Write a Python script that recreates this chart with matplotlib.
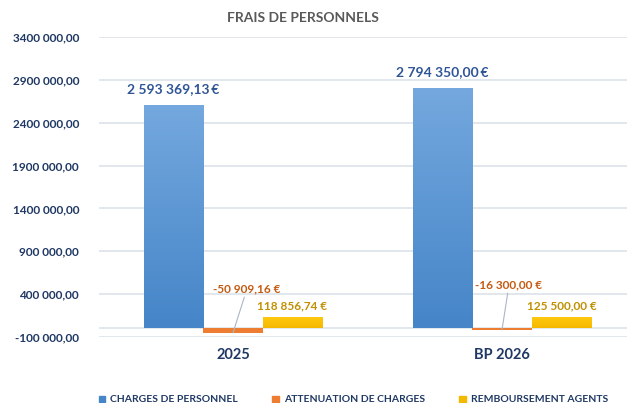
# ----- Frais de personnels -----
# bar chart, 3 series over 2 years
import numpy as np
import matplotlib
matplotlib.use("Agg")
import matplotlib.pyplot as plt
from matplotlib.colors import LinearSegmentedColormap
from matplotlib.patches import Patch

plt.rcParams['font.family'] = ['Lato', 'DejaVu Sans']

# ----- Data -----
categories = ["2025", "BP 2026"]
series_names = ["CHARGES DE PERSONNEL", "ATTENUATION DE CHARGES", "REMBOURSEMENT AGENTS"]
charges = [2593369.13, 2794350.00]
attenuation = [-50909.16, -16300.00]
remboursement = [118856.74, 125500.00]
y_ticks = [-100000, 400000, 900000, 1400000, 1900000, 2400000, 2900000, 3400000]

navy = "#1f3864"
blue_top, blue_bot = "#74a8de", "#4585c8"
orange = "#ed7d31"
yellow_top, yellow_bot = "#ffc80f", "#f5b800"
grid_col = "#e2e7ee"


def fmt_eur(v, sep=" "):
    s = f"{v:,.2f}".replace(",", " ").replace(".", ",")
    return s + sep + "€"


def fmt_tick(v):
    return f"{int(v / 1000)} 000,00"


fig = plt.figure(figsize=(6.27, 4.03), dpi=100)
ax = fig.add_axes([98.5 / 627, 66 / 403, 538 / 627, 300 / 403])

x = np.arange(len(categories))
w = 0.221

b_charges = ax.bar(x - w, charges, w, color=blue_bot, zorder=3)
b_att = ax.bar(x, attenuation, w, color=orange, zorder=3)
b_remb = ax.bar(x + w, remboursement, w, color=yellow_bot, zorder=3)

# gradient fill like excel
def grad_fill(bars, c_top, c_bot):
    cmap = LinearSegmentedColormap.from_list("g", [c_bot, c_top])
    grad = np.linspace(0, 1, 256).reshape(-1, 1)
    for b in bars:
        x0, y0 = b.get_x(), b.get_y()
        x1, y1 = x0 + b.get_width(), y0 + b.get_height()
        ax.imshow(grad, extent=[x0, x1, min(y0, y1), max(y0, y1)], origin="lower",
                  aspect="auto", cmap=cmap, zorder=3.5)

grad_fill(b_charges, blue_top, blue_bot)
grad_fill(b_remb, yellow_top, yellow_bot)

ax.set_xlim(-0.5, 1.5)
ax.set_ylim(-100000, 3400000)

# grid
ax.set_yticks(y_ticks)
ax.set_yticklabels([fmt_tick(t) for t in y_ticks])
ax.grid(axis="y", color=grid_col, lw=1.4, zorder=0)
ax.axhline(0, color=grid_col, lw=1.4, zorder=1)
for s in ax.spines.values():
    s.set_visible(False)
ax.tick_params(axis="y", length=0, pad=14, labelsize=8.5, labelcolor=navy)
for lab in ax.get_yticklabels():
    lab.set_fontweight("bold")

ax.set_xticks(x)
ax.set_xticklabels(categories, fontsize=10.5, fontweight="bold", color=navy)
ax.tick_params(axis="x", length=0, pad=8)

# data labels
for b, v in zip(b_charges, charges):
    ax.annotate(fmt_eur(v, "\u2009"), (b.get_x() + b.get_width() / 2, v), xytext=(0, 17),
                textcoords="offset pixels", ha="center", va="center",
                fontsize=10, fontweight="bold", color="#2f5597")

att_offsets = [(14, 44), (7, 45)]
for b, v, off in zip(b_att, attenuation, att_offsets):
    ax.annotate(fmt_eur(v), (b.get_x() + b.get_width() / 2, v), xytext=off,
                textcoords="offset pixels", ha="center", va="center",
                fontsize=8.5, fontweight="bold", color="#c55a11",
                arrowprops=dict(arrowstyle="-", color="#a9b6c8", lw=0.8,
                                shrinkA=0, shrinkB=0))

for b, v in zip(b_remb, remboursement):
    ax.annotate(fmt_eur(v), (b.get_x() + b.get_width() / 2, v), xytext=(0, 12),
                textcoords="offset pixels", ha="center", va="center",
                fontsize=8.5, fontweight="bold", color="#bf9000")

fig.text(303 / 627, 1 - 18 / 403, "FRAIS DE PERSONNELS", ha="center", va="center",
         fontsize=10, fontweight="bold", color="#595959")

handles = [Patch(color=blue_bot), Patch(color=orange), Patch(color=yellow_bot)]
leg = fig.legend(handles, series_names, loc="center", bbox_to_anchor=(353.5 / 627, 3 / 403),
                 ncol=3, frameon=False, handlelength=0.6, handleheight=0.6,
                 handletextpad=0.5, columnspacing=3.3,
                 prop=dict(family=['Lato', 'DejaVu Sans'], weight="bold", size=7.5))
for t in leg.get_texts():
    t.set_color(navy)

fig.savefig("out.png", dpi=100)
